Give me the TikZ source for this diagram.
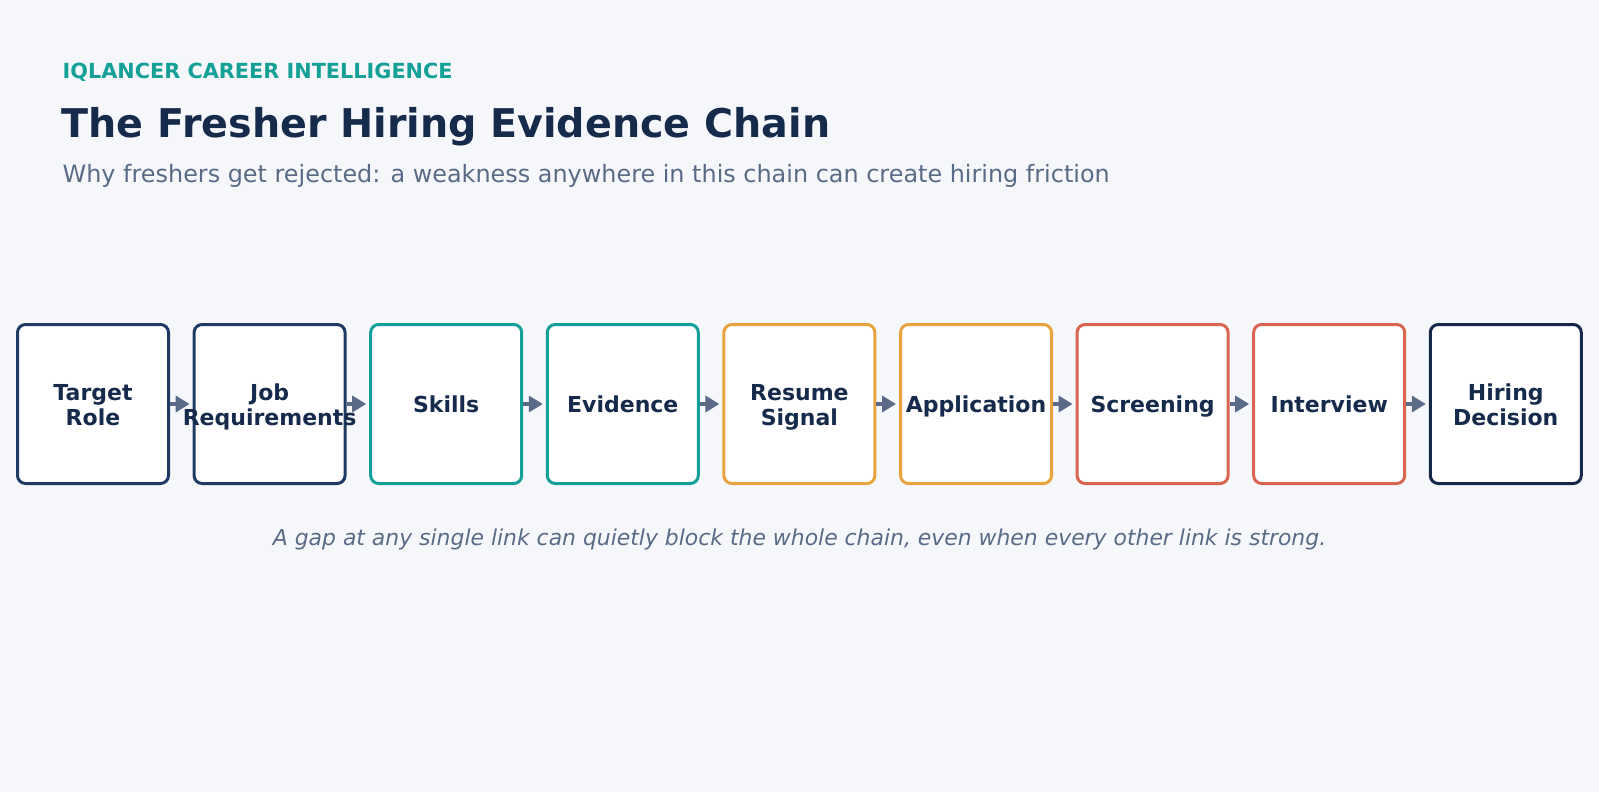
\documentclass[tikz,border=0pt]{standalone}
\usepackage{fontspec}
\setmainfont{DejaVu Sans}
\usetikzlibrary{arrows.meta}
\definecolor{bgc}{HTML}{F5F7FB}
\definecolor{navy}{HTML}{1F3B63}
\definecolor{navyd}{HTML}{15284A}
\definecolor{tealc}{HTML}{14A096}
\definecolor{orangec}{HTML}{E8A33E}
\definecolor{redc}{HTML}{D8654F}
\definecolor{textc}{HTML}{162B4B}
\definecolor{grayc}{HTML}{5A6B86}
\definecolor{arrc}{HTML}{5B6B87}
\newcommand{\topst}{\rule{0pt}{22.5pt}}
\newcommand{\botst}{\rule[-5.5pt]{0pt}{5.5pt}}
\tikzset{
  stagebox/.style={draw=#1, line width=3pt, fill=white, rounded corners=8pt,
    minimum width=151pt, minimum height=159pt, inner sep=0pt},
  stagelabel/.style={align=center, text=textc, inner sep=0pt,
    font=\fontsize{22}{25}\selectfont\bfseries},
  chainarrow/.style={draw=arrc, line width=3.5pt, shorten >=3pt,
    -{Triangle[length=14pt,width=16pt]}},
}
\begin{document}
\begin{tikzpicture}[x=1pt,y=-1pt]
\fill[bgc] (0,0) rectangle (1599,792);
\useasboundingbox (0,0) rectangle (1599,792);
\node[anchor=base west, inner sep=0pt, text=tealc, font=\fontsize{20.8}{25}\selectfont\bfseries] (kicker) at (62.5,79) {IQLANCER CAREER INTELLIGENCE};
\node[anchor=base west, inner sep=0pt, text=textc, font=\fontsize{39.6}{46}\selectfont\bfseries] (title) at (61.5,137.8) {The Fresher Hiring Evidence Chain};
\node[anchor=base west, inner sep=0pt, text=grayc, font=\fontsize{23.9}{28}\selectfont] (sub) at (62.5,182.2) {Why freshers get rejected: a weakness anywhere in this chain can create hiring friction};
\foreach \i/\c/\t in {1/navy/{\topst Target\\\botst Role},2/navy/{\topst Job\\\botst Requirements},3/tealc/{\topst\botst Skills},4/tealc/{\topst\botst Evidence},5/orangec/{\topst Resume\\\botst Signal},6/orangec/{\topst\botst Application},7/redc/{\topst\botst Screening},8/redc/{\topst\botst Interview},9/navyd/{\topst Hiring\\\botst Decision}}{
  \node[stagebox=\c] (b\i) at ({93+(\i-1)*176.6},404) {};
  \node[stagelabel] (t\i) at (b\i.center) {\t};
}
\foreach \i [evaluate=\i as \j using int(\i+1)] in {1,...,8}{
  \draw[chainarrow] (b\i.east) -- (b\j.west);
}
\node[anchor=base, inner sep=0pt, text=grayc, font=\fontsize{21.9}{26}\selectfont\itshape] (foot) at (799.5,545.7) {A gap at any single link can quietly block the whole chain, even when every other link is strong.};
\end{tikzpicture}
\end{document}
